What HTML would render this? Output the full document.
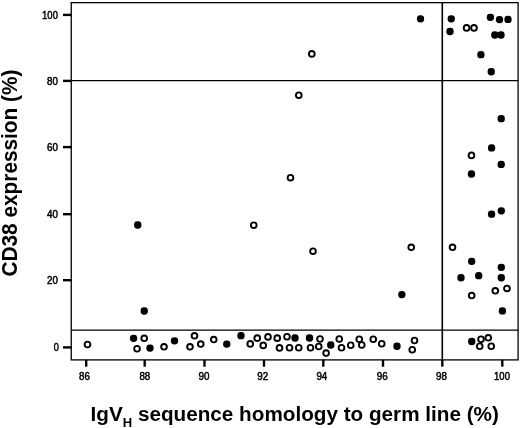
<!DOCTYPE html>
<html><head><meta charset="utf-8"><title>CD38 expression vs IgVH homology</title>
<style>
html,body{margin:0;padding:0;background:#fff;}
svg{display:block;}
text{font-family:"Liberation Sans",sans-serif;fill:#000;}
.t{font-size:10.8px;}
.b{font-weight:bold;}
</style></head><body>
<svg width="520" height="428" viewBox="0 0 520 428">
<rect x="0" y="0" width="520" height="428" fill="#fff"/>
<rect x="71.25" y="2.65" width="446.85" height="357.25" fill="none" stroke="#000" stroke-width="1.3"/>
<line x1="71" y1="80.6" x2="518.1" y2="80.6" stroke="#000" stroke-width="1.2"/>
<line x1="71" y1="330.1" x2="518.1" y2="330.1" stroke="#000" stroke-width="1.1"/>
<line x1="442.3" y1="2.6" x2="442.3" y2="359.8" stroke="#000" stroke-width="1.6"/>

<g stroke="#000" stroke-width="2.4">
<line x1="63" y1="14.9" x2="71.5" y2="14.9"/>
<line x1="63" y1="80.9" x2="71.5" y2="80.9"/>
<line x1="63" y1="147.1" x2="71.5" y2="147.1"/>
<line x1="63" y1="214.2" x2="71.5" y2="214.2"/>
<line x1="63" y1="280.2" x2="71.5" y2="280.2"/>
<line x1="63" y1="347.4" x2="71.5" y2="347.4"/>
<line x1="86.2" y1="359.8" x2="86.2" y2="366.7"/>
<line x1="144.7" y1="359.8" x2="144.7" y2="366.7"/>
<line x1="204.5" y1="359.8" x2="204.5" y2="366.7"/>
<line x1="264" y1="359.8" x2="264" y2="366.7"/>
<line x1="323.3" y1="359.8" x2="323.3" y2="366.7"/>
<line x1="383" y1="359.8" x2="383" y2="366.7"/>
<line x1="442.3" y1="359.8" x2="442.3" y2="366.7"/>
<line x1="502.3" y1="359.8" x2="502.3" y2="366.7"/>
</g>
<g class="t" stroke="#000" stroke-width="0.5">
<text x="42.1" y="18.5" textLength="15.8" lengthAdjust="spacingAndGlyphs">100</text>
<text x="47.0" y="84.5" textLength="10.9" lengthAdjust="spacingAndGlyphs">80</text>
<text x="47.0" y="150.7" textLength="10.9" lengthAdjust="spacingAndGlyphs">60</text>
<text x="47.0" y="217.8" textLength="10.9" lengthAdjust="spacingAndGlyphs">40</text>
<text x="47.0" y="283.8" textLength="10.9" lengthAdjust="spacingAndGlyphs">20</text>
<text x="53.7" y="351.0" textLength="5.1" lengthAdjust="spacingAndGlyphs">0</text>
<text x="79.1" y="379.8" textLength="10.9" lengthAdjust="spacingAndGlyphs">86</text>
<text x="139.4" y="379.8" textLength="10.9" lengthAdjust="spacingAndGlyphs">88</text>
<text x="198.5" y="379.8" textLength="10.9" lengthAdjust="spacingAndGlyphs">90</text>
<text x="257.2" y="379.8" textLength="10.9" lengthAdjust="spacingAndGlyphs">92</text>
<text x="316.4" y="379.8" textLength="10.9" lengthAdjust="spacingAndGlyphs">94</text>
<text x="376.8" y="379.8" textLength="10.9" lengthAdjust="spacingAndGlyphs">96</text>
<text x="436.1" y="379.8" textLength="10.9" lengthAdjust="spacingAndGlyphs">98</text>
<text x="494.1" y="379.8" textLength="15.8" lengthAdjust="spacingAndGlyphs">100</text>
</g>
<g fill="#000">
<rect x="416.85" y="15.15" width="7.3" height="7.3" rx="3.4" ry="3.4"/>
<rect x="447.60" y="15.15" width="7.3" height="7.3" rx="3.4" ry="3.4"/>
<rect x="446.35" y="27.85" width="7.3" height="7.3" rx="3.4" ry="3.4"/>
<rect x="486.75" y="13.65" width="7.3" height="7.3" rx="3.4" ry="3.4"/>
<rect x="495.85" y="15.95" width="7.3" height="7.3" rx="3.4" ry="3.4"/>
<rect x="504.35" y="15.75" width="7.3" height="7.3" rx="3.4" ry="3.4"/>
<rect x="491.15" y="31.35" width="7.3" height="7.3" rx="3.4" ry="3.4"/>
<rect x="497.35" y="31.35" width="7.3" height="7.3" rx="3.4" ry="3.4"/>
<rect x="477.25" y="51.05" width="7.3" height="7.3" rx="3.4" ry="3.4"/>
<rect x="487.60" y="68.10" width="7.3" height="7.3" rx="3.4" ry="3.4"/>
<rect x="497.55" y="115.05" width="7.3" height="7.3" rx="3.4" ry="3.4"/>
<rect x="487.95" y="144.30" width="7.3" height="7.3" rx="3.4" ry="3.4"/>
<rect x="497.55" y="160.80" width="7.3" height="7.3" rx="3.4" ry="3.4"/>
<rect x="467.80" y="170.35" width="7.3" height="7.3" rx="3.4" ry="3.4"/>
<rect x="487.90" y="210.55" width="7.3" height="7.3" rx="3.4" ry="3.4"/>
<rect x="497.65" y="207.15" width="7.3" height="7.3" rx="3.4" ry="3.4"/>
<rect x="468.05" y="257.65" width="7.3" height="7.3" rx="3.4" ry="3.4"/>
<rect x="497.65" y="263.65" width="7.3" height="7.3" rx="3.4" ry="3.4"/>
<rect x="457.35" y="274.10" width="7.3" height="7.3" rx="3.4" ry="3.4"/>
<rect x="475.05" y="272.05" width="7.3" height="7.3" rx="3.4" ry="3.4"/>
<rect x="497.65" y="274.10" width="7.3" height="7.3" rx="3.4" ry="3.4"/>
<rect x="398.20" y="290.95" width="7.3" height="7.3" rx="3.4" ry="3.4"/>
<rect x="498.75" y="307.25" width="7.3" height="7.3" rx="3.4" ry="3.4"/>
<rect x="468.10" y="337.85" width="7.3" height="7.3" rx="3.4" ry="3.4"/>
<rect x="393.35" y="342.60" width="7.3" height="7.3" rx="3.4" ry="3.4"/>
<rect x="140.60" y="307.35" width="7.3" height="7.3" rx="3.4" ry="3.4"/>
<rect x="129.95" y="334.65" width="7.3" height="7.3" rx="3.4" ry="3.4"/>
<rect x="146.35" y="344.40" width="7.3" height="7.3" rx="3.4" ry="3.4"/>
<rect x="134.10" y="221.35" width="7.3" height="7.3" rx="3.4" ry="3.4"/>
<rect x="170.85" y="337.15" width="7.3" height="7.3" rx="3.4" ry="3.4"/>
<rect x="223.10" y="340.40" width="7.3" height="7.3" rx="3.4" ry="3.4"/>
<rect x="237.35" y="332.00" width="7.3" height="7.3" rx="3.4" ry="3.4"/>
<rect x="291.35" y="334.35" width="7.3" height="7.3" rx="3.4" ry="3.4"/>
<rect x="305.85" y="334.35" width="7.3" height="7.3" rx="3.4" ry="3.4"/>
<rect x="327.10" y="341.35" width="7.3" height="7.3" rx="3.4" ry="3.4"/>
</g>
<g fill="#fff" stroke="#000" stroke-width="1.9">
<circle cx="466.6" cy="27.9" r="2.85"/>
<circle cx="474" cy="27.9" r="2.85"/>
<circle cx="471.45" cy="155.4" r="2.85"/>
<circle cx="411.25" cy="247.3" r="2.85"/>
<circle cx="452.5" cy="247.3" r="2.85"/>
<circle cx="506.95" cy="288.45" r="2.85"/>
<circle cx="495.3" cy="290.8" r="2.85"/>
<circle cx="471.7" cy="295.55" r="2.85"/>
<circle cx="481" cy="339.25" r="2.85"/>
<circle cx="488.25" cy="337.8" r="2.85"/>
<circle cx="479.75" cy="346.25" r="2.85"/>
<circle cx="491.25" cy="346.25" r="2.85"/>
<circle cx="414.5" cy="340.5" r="2.85"/>
<circle cx="412.25" cy="349.75" r="2.85"/>
<circle cx="87.5" cy="344.5" r="2.85"/>
<circle cx="144.2" cy="338.3" r="2.85"/>
<circle cx="137.05" cy="348.75" r="2.85"/>
<circle cx="164" cy="346.8" r="2.85"/>
<circle cx="190" cy="346.8" r="2.85"/>
<circle cx="194.5" cy="335.8" r="2.85"/>
<circle cx="200.75" cy="344.05" r="2.85"/>
<circle cx="213.75" cy="339.55" r="2.85"/>
<circle cx="250.25" cy="343.9" r="2.85"/>
<circle cx="257.25" cy="338.15" r="2.85"/>
<circle cx="263.25" cy="345.4" r="2.85"/>
<circle cx="268" cy="336.9" r="2.85"/>
<circle cx="277.25" cy="338.15" r="2.85"/>
<circle cx="279.5" cy="347.9" r="2.85"/>
<circle cx="287" cy="336.75" r="2.85"/>
<circle cx="289.5" cy="347.75" r="2.85"/>
<circle cx="298.75" cy="347.75" r="2.85"/>
<circle cx="310.5" cy="347.75" r="2.85"/>
<circle cx="320" cy="339.0" r="2.85"/>
<circle cx="318.75" cy="346.5" r="2.85"/>
<circle cx="326.1" cy="353.1" r="2.85"/>
<circle cx="339.25" cy="339.0" r="2.85"/>
<circle cx="341.5" cy="347.75" r="2.85"/>
<circle cx="350.75" cy="345.25" r="2.85"/>
<circle cx="359.25" cy="339.25" r="2.85"/>
<circle cx="361.75" cy="345" r="2.85"/>
<circle cx="373.25" cy="339.25" r="2.85"/>
<circle cx="381.75" cy="343.75" r="2.85"/>
<circle cx="311.8" cy="53.9" r="2.85"/>
<circle cx="298.8" cy="95.2" r="2.85"/>
<circle cx="290.5" cy="177.7" r="2.85"/>
<circle cx="253.75" cy="225.2" r="2.85"/>
<circle cx="313.0" cy="251.2" r="2.85"/>
</g>
<text class="b" x="90.6" y="420.5" font-size="20.7">IgV<tspan font-size="13" dy="6.4">H</tspan><tspan dy="-6.4"> sequence homology to germ line (%)</tspan></text>
<text class="b" transform="translate(17.3,276.5) rotate(-90) scale(1,1.04)" x="0" y="0" font-size="20.8">CD38 expression (%)</text>
</svg></body></html>
